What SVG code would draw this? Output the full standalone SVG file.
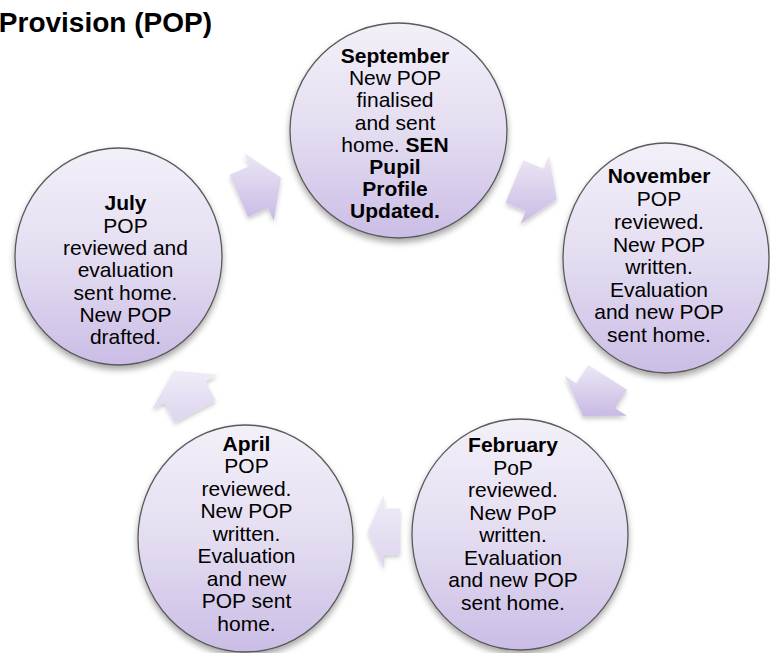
<svg xmlns="http://www.w3.org/2000/svg" width="770" height="653" viewBox="0 0 770 653">
<style>
.node{stroke:#5a5a5a;stroke-width:1.3;fill:url(#cg);filter:url(#sh)}
.arrow{filter:url(#ash)}
text{font-family:"Liberation Sans",Arial,sans-serif;font-size:21px;fill:#000;text-anchor:middle}
.b{font-weight:bold}
.title{font-size:28px;font-weight:bold;text-anchor:end}
</style>
<defs>
<linearGradient id="cg" x1="0" y1="0" x2="0" y2="1">
<stop offset="0" stop-color="#f3f0f9"/>
<stop offset="0.5" stop-color="#e4ddf1"/>
<stop offset="1" stop-color="#cbbde6"/>
</linearGradient>
<linearGradient id="ag" x1="0" y1="0" x2="0" y2="1">
<stop offset="0" stop-color="#ece7f5"/>
<stop offset="1" stop-color="#c8bae4"/>
</linearGradient>
<linearGradient id="ag2" x1="0" y1="0" x2="0" y2="1">
<stop offset="0" stop-color="#f0ecf7"/>
<stop offset="1" stop-color="#ddd4ef"/>
</linearGradient>
<filter id="sh" x="-20%" y="-20%" width="140%" height="150%">
<feDropShadow dx="0" dy="4" stdDeviation="3" flood-color="#000" flood-opacity="0.35"/>
</filter>
<filter id="ash" x="-30%" y="-30%" width="160%" height="170%">
<feDropShadow dx="0" dy="3" stdDeviation="2" flood-color="#000" flood-opacity="0.2"/>
</filter>
</defs>
<rect width="770" height="653" fill="#fff"/>
<text class="title" x="212" y="32">Provision (POP)</text>
<g id="connectors">
<polygon class="arrow" fill="url(#ag)" points="229.7,174.7 249.8,165.9 244.2,153.1 281,177.4 273.8,220.9 268.2,208.1 248,216.9"/>
<polygon class="arrow" fill="url(#ag)" points="523.3,160.3 543.6,168.8 549,155.9 556.8,199.3 520.4,224.1 525.8,211.2 505.5,202.7"/>
<polygon class="arrow" fill="url(#ag)" points="588.3,364.9 627.1,389.7 615.2,408.2 627,415.8 582.8,416 564.7,375.8 576.4,383.4"/>
<polygon class="arrow" fill="url(#ag2)" points="400,508.5 384,508.5 384,494.5 368,531.5 384,568.5 384,554.5 400,554.5"/>
<polygon class="arrow" fill="url(#ag2)" points="174.9,421.9 164.6,402.4 152.3,408.9 173.8,370.5 217.8,374.5 205.4,381 215.6,400.5"/>
</g>
<g id="september">
<ellipse class="node" cx="398.5" cy="130.5" rx="108.5" ry="107.5"/>
<text x="395" y="63" class="b">September</text>
<text x="395" y="85">New POP</text>
<text x="395" y="107">finalised</text>
<text x="395" y="130">and sent</text>
<text x="395" y="152">home. <tspan class="b">SEN</tspan></text>
<text x="395" y="174" class="b">Pupil</text>
<text x="395" y="196" class="b">Profile</text>
<text x="395" y="218" class="b">Updated.</text>
</g>
<g id="november">
<ellipse class="node" cx="666" cy="258" rx="103" ry="115"/>
<text x="659" y="183" class="b">November</text>
<text x="659" y="206">POP</text>
<text x="659" y="229">reviewed.</text>
<text x="659" y="252">New POP</text>
<text x="659" y="274">written.</text>
<text x="659" y="297">Evaluation</text>
<text x="659" y="319">and new POP</text>
<text x="659" y="342">sent home.</text>
</g>
<g id="february">
<ellipse class="node" cx="520" cy="534.5" rx="108" ry="115.5"/>
<text x="513" y="452" class="b">February</text>
<text x="513" y="475">PoP</text>
<text x="513" y="497">reviewed.</text>
<text x="513" y="520">New PoP</text>
<text x="513" y="542">written.</text>
<text x="513" y="565">Evaluation</text>
<text x="513" y="587">and new POP</text>
<text x="513" y="610">sent home.</text>
</g>
<g id="april">
<ellipse class="node" cx="245.5" cy="538.5" rx="107.5" ry="113.5"/>
<text x="246.5" y="451" class="b">April</text>
<text x="246.5" y="473">POP</text>
<text x="246.5" y="496">reviewed.</text>
<text x="246.5" y="518">New POP</text>
<text x="246.5" y="541">written.</text>
<text x="246.5" y="563">Evaluation</text>
<text x="246.5" y="586">and new</text>
<text x="246.5" y="608">POP sent</text>
<text x="246.5" y="631">home.</text>
</g>
<g id="july">
<ellipse class="node" cx="118.5" cy="256.5" rx="103.5" ry="108.5"/>
<text x="125.5" y="210" class="b">July</text>
<text x="125.5" y="233">POP</text>
<text x="125.5" y="255">reviewed and</text>
<text x="125.5" y="277">evaluation</text>
<text x="125.5" y="300">sent home.</text>
<text x="125.5" y="322">New POP</text>
<text x="125.5" y="344">drafted.</text>
</g>
</svg>
